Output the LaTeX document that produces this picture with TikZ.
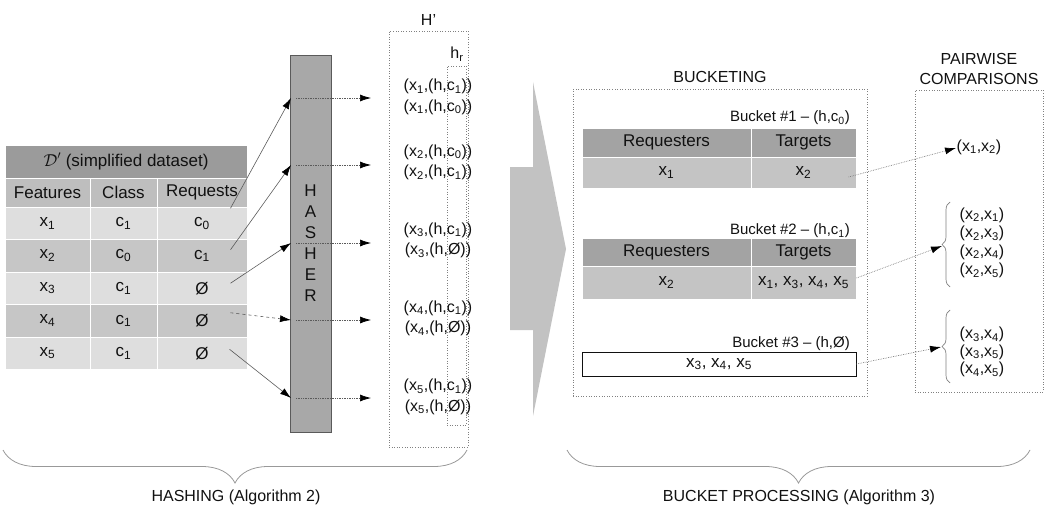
\documentclass[tikz,border=0pt]{standalone}
\usepackage{fontspec}
\setmainfont{Liberation Sans}
\usetikzlibrary{arrows.meta,decorations.pathreplacing}
\definecolor{titlegray}{HTML}{9B9B9B}
\definecolor{headgray}{HTML}{BEBEBE}
\definecolor{rowlight}{HTML}{DEDEDE}
\definecolor{rowdark}{HTML}{C6C6C6}
\definecolor{hashfill}{HTML}{A8A8A8}
\definecolor{bigarrow}{HTML}{C2C2C2}
\definecolor{bkthead}{HTML}{A3A3A3}
\definecolor{bktrow}{HTML}{C4C4C4}
\definecolor{ink}{HTML}{111111}
\definecolor{wire}{HTML}{5A5A5A}
\newcommand{\xsub}[1]{x\textsubscript{#1}}
\newcommand{\csub}[1]{c\textsubscript{#1}}
\tikzset{
  tcell/.style = {draw=white, line width=1pt, inner sep=0pt, text=ink, font=\fontsize{17}{20}\selectfont, minimum height=32.5pt},
  ttitle/.style = {tcell, fill=titlegray, minimum width=242pt, minimum height=33pt},
  thead/.style = {tcell, fill=headgray, minimum height=29pt},
  tlight/.style = {tcell, fill=rowlight},
  tdark/.style = {tcell, fill=rowdark},
  hasher/.style = {draw=wire, fill=hashfill, minimum width=41pt, minimum height=377pt, align=center, text=ink, font=\fontsize{17}{21}\selectfont},
  dotbox/.style = {draw=gray, dotted, line width=0.6pt, inner sep=0pt},
  hpair/.style = {align=center, text=ink, inner sep=0pt, font=\fontsize{16}{20.5}\selectfont},
  plabel/.style = {align=center, text=ink, font=\fontsize{16}{20}\selectfont},
  blabel/.style = {text=ink, inner sep=0pt, font=\fontsize{15}{18}\selectfont},
  bhead/.style = {tcell, fill=bkthead, minimum height=29pt},
  brow/.style = {tcell, fill=bktrow, minimum height=31pt},
  feed/.style = {draw=wire, line width=0.6pt, -{Latex[length=11pt,width=7pt,color=black]}},
  hout/.style = {draw=wire, densely dotted, line width=0.7pt, -{Latex[length=11pt,width=7pt,color=black]}},
  pout/.style = {draw=gray, densely dotted, line width=0.7pt, -{Latex[length=11pt,width=7pt,color=black]}},
  pbrace/.style = {draw=gray, line width=0.7pt, decorate, decoration={brace, amplitude=8pt}},
  bbrace/.style = {draw=gray!80, line width=0.8pt, decorate, decoration={brace, mirror, amplitude=33pt}},
}
\begin{document}
\begin{tikzpicture}[x=1pt, y=-1pt]
\useasboundingbox (0,0) rectangle (1051,508);

\node [ttitle] (title) at (126,161.5) {$\mathcal{D}'$ (simplified dataset)};
\node [thead, minimum width=85pt] (hf) at (47.5,192.5) {Features};
\node [thead, minimum width=67pt] (hc) at (123.5,192.5) {Class};
\node [thead, minimum width=90pt] (hq) at (202,192.5) {Requests};
\node [tlight, minimum width=85pt] (r1f) at (47.5,223.25) {\xsub{1}};
\node [tlight, minimum width=67pt] (r1c) at (123.5,223.25) {\csub{1}};
\node [tlight, minimum width=90pt] (r1q) at (202,223.25) {\csub{0}};
\node [tdark, minimum width=85pt] (r2f) at (47.5,255.75) {\xsub{2}};
\node [tdark, minimum width=67pt] (r2c) at (123.5,255.75) {\csub{0}};
\node [tdark, minimum width=90pt] (r2q) at (202,255.75) {\csub{1}};
\node [tlight, minimum width=85pt] (r3f) at (47.5,288.25) {\xsub{3}};
\node [tlight, minimum width=67pt] (r3c) at (123.5,288.25) {\csub{1}};
\node [tlight, minimum width=90pt] (r3q) at (202,288.25) {Ø};
\node [tdark, minimum width=85pt] (r4f) at (47.5,320.75) {\xsub{4}};
\node [tdark, minimum width=67pt] (r4c) at (123.5,320.75) {\csub{1}};
\node [tdark, minimum width=90pt] (r4q) at (202,320.75) {Ø};
\node [tlight, minimum width=85pt] (r5f) at (47.5,353.25) {\xsub{5}};
\node [tlight, minimum width=67pt] (r5c) at (123.5,353.25) {\csub{1}};
\node [tlight, minimum width=90pt] (r5q) at (202,353.25) {Ø};

\node [hasher] (hash) at (310.5,243.5) {H\\A\\S\\H\\E\\R};
\coordinate (in1) at (291,98);
\coordinate (in2) at (291,165);
\coordinate (in3) at (291,243);
\coordinate (in4) at (291,320);
\coordinate (in5) at (291,398);
\coordinate (out1) at (371,98);
\coordinate (out2) at (371,165);
\coordinate (out3) at (371,243);
\coordinate (out4) at (371,320);
\coordinate (out5) at (371,398);

\draw [feed] ([xshift=-17pt,yshift=15pt]r1q.east) -- (in1);
\draw [feed] ([xshift=-17pt,yshift=6pt]r2q.east) -- (in2);
\draw [feed] ([xshift=-17pt,yshift=5pt]r3q.east) -- (in3);
\draw [feed, dashed] ([xshift=-17pt,yshift=8pt]r4q.east) -- (in4);
\draw [feed] ([xshift=-18pt,yshift=4pt]r5q.east) -- (in5);
\draw [hout] ([xshift=5pt]in1) -- (out1);
\draw [hout] ([xshift=5pt]in2) -- (out2);
\draw [hout] ([xshift=5pt]in3) -- (out3);
\draw [hout] ([xshift=5pt]in4) -- (out4);
\draw [hout] ([xshift=5pt]in5) -- (out5);

\node [dotbox, minimum width=79pt, minimum height=416pt] (hbox) at (428.5,239) {};
\node [plabel, above=2pt] at (hbox.north) {H’};
\node [dotbox, minimum width=19pt, minimum height=359pt] (hr) at (456.5,245.5) {};
\node [hpair] at (457,54) {h\textsubscript{r}};
\node [hpair] (p1) at (438,97) {(\xsub{1},(h,\csub{1}))\\(\xsub{1},(h,\csub{0}))};
\node [hpair] (p2) at (438,162.5) {(\xsub{2},(h,\csub{0}))\\(\xsub{2},(h,\csub{1}))};
\node [hpair] (p3) at (438,240.5) {(\xsub{3},(h,\csub{1}))\\(\xsub{3},(h,Ø))};
\node [hpair] (p4) at (438,318.5) {(\xsub{4},(h,\csub{1}))\\(\xsub{4},(h,Ø))};
\node [hpair] (p5) at (438,397) {(\xsub{5},(h,\csub{1}))\\(\xsub{5},(h,Ø))};

\fill [bigarrow] (510,167) -- (533,167) -- (533,82) -- (566,249) -- (533,416) -- (533,330) -- (510,330) -- cycle;

\node [dotbox, minimum width=294pt, minimum height=307pt] (bkt) at (720,242.5) {};
\node [plabel] at (720,77) {BUCKETING};
\node [blabel, anchor=east] at (850,118) {Bucket \#1 – (h,\csub{0})};
\node [bhead, minimum width=169pt] (b1r) at (666.5,142.5) {Requesters};
\node [bhead, minimum width=105pt] (b1t) at (803.5,142.5) {Targets};
\node [brow, minimum width=169pt] (b1x) at (666.5,172.5) {\xsub{1}};
\node [brow, minimum width=105pt] (b1y) at (803.5,172.5) {\xsub{2}};
\node [blabel, anchor=east] at (850,231) {Bucket \#2 – (h,\csub{1})};
\node [bhead, minimum width=169pt, minimum height=28pt] (b2r) at (666.5,252) {Requesters};
\node [bhead, minimum width=105pt, minimum height=28pt] (b2t) at (803.5,252) {Targets};
\node [brow, minimum width=169pt, minimum height=33pt] (b2x) at (666.5,282.5) {\xsub{2}};
\node [brow, minimum width=105pt, minimum height=33pt] (b2y) at (803.5,282.5) {\xsub{1}, \xsub{3}, \xsub{4}, \xsub{5}};
\node [blabel, anchor=east] at (850,344) {Bucket \#3 – (h,Ø)};
\node [tcell, draw=ink, line width=0.8pt, fill=white, minimum width=274pt, minimum height=24pt] (b3) at (719,364) {\xsub{3}, \xsub{4}, \xsub{5}};

\node [dotbox, minimum width=128pt, minimum height=302pt] (pw) at (979,241) {};
\node [plabel, anchor=south] at ([yshift=2pt]pw.north) {PAIRWISE\\COMPARISONS};
\node [hpair] (q1) at (979,147) {(\xsub{1},\xsub{2})};
\node [hpair, font=\fontsize{16}{18.5}\selectfont] (q2) at (982,243) {(\xsub{2},\xsub{1})\\(\xsub{2},\xsub{3})\\(\xsub{2},\xsub{4})\\(\xsub{2},\xsub{5})};
\node [hpair, font=\fontsize{16}{17.5}\selectfont] (q3) at (982,352) {(\xsub{3},\xsub{4})\\(\xsub{3},\xsub{5})\\(\xsub{4},\xsub{5})};
\draw [pbrace] (950,287) -- (950,202);
\draw [pbrace] (950,383) -- (950,310);
\coordinate (k1) at (956,148);
\coordinate (k2) at (942,246);
\coordinate (k3) at (941,347);
\draw [pout] ([xshift=-8pt,yshift=-4.5pt]b1y.east) -- (k1);
\draw [pout] ([yshift=4.5pt]b2y.east) -- (k2);
\draw [pout] (b3.east) -- (k3);

\draw [bbrace] (3,450) -- (467,450);
\draw [bbrace] (567,450) -- (1030,450);
\node [plabel] (hashing) at (236,497) {HASHING (Algorithm 2)};
\node [plabel] (processing) at (799,497) {BUCKET PROCESSING (Algorithm 3)};
\end{tikzpicture}
\end{document}
